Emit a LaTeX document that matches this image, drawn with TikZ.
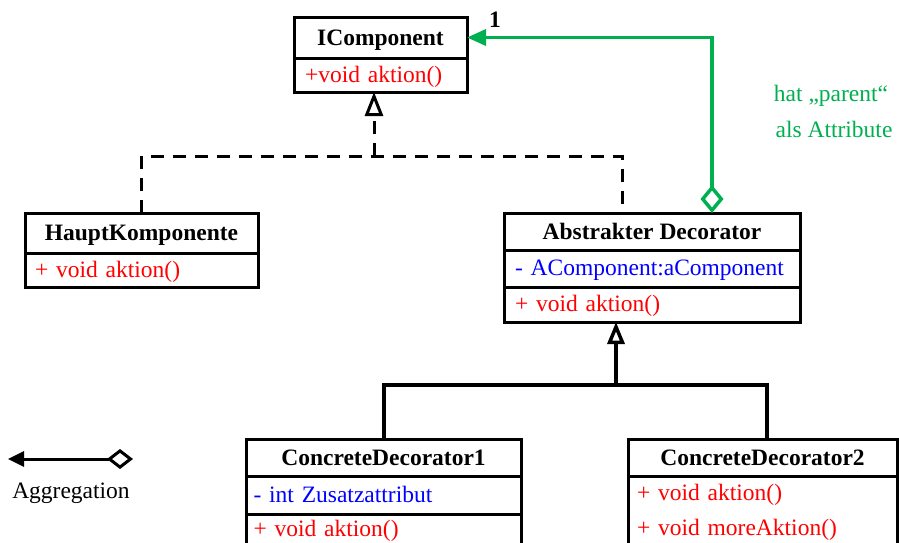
\documentclass[tikz,border=0pt]{standalone}
\usepackage{fontspec}
\setmainfont{Liberation Serif}
\usetikzlibrary{arrows.meta,calc}
\definecolor{umlgreen}{RGB}{0,176,80}
\definecolor{umlred}{RGB}{255,0,0}
\definecolor{umlblue}{RGB}{0,0,255}
\begin{document}
\begin{tikzpicture}[x=1pt,y=-1pt,
  cpt/.style={draw=black, line width=3pt, inner ysep=0pt, outer sep=0pt, anchor=north west},
  ttl/.style={cpt, inner xsep=0pt, text height=19pt, text depth=4pt, font=\fontsize{23.5}{28}\selectfont\bfseries},
  mem/.style={cpt, align=left, font=\fontsize{23.5}{35}\selectfont},
  mone/.style={mem, text height=18pt, text depth=4pt},
  dsh/.style={draw=black, line width=3pt, dash pattern=on 13pt off 9pt},
  inh/.style={draw=black, line width=4pt},
  agg/.style={draw=umlgreen, line width=3.5pt},
  lbl/.style={inner sep=0pt, font=\fontsize{23.5}{28}\selectfont}
]
\clip (0,0) rectangle (899,542);
\fill[white] (0,0) rectangle (899,542);

% IComponent
\node[ttl, minimum width=173pt, minimum height=41pt] (ic) at (294,17) {IComponent};
\node[mone, text=umlred, minimum height=34pt, text width=151pt, inner xsep=11pt] (icm) at (294,58) {+void aktion()};

% HauptKomponente
\node[ttl, minimum width=233pt, minimum height=40pt] (hk) at (25,213) {HauptKomponente};
\node[mone, text=umlred, minimum height=34pt, text width=213pt, inner xsep=10pt] (hkm) at (25,253) {+ void aktion()};

% Abstrakter Decorator
\node[ttl, minimum width=296pt, minimum height=37pt] (ad) at (504,213) {Abstrakter Decorator};
\node[mone, text=umlblue, minimum height=37pt, text width=274pt, inner xsep=11pt] (ada) at (504,250) {- AComponent:aComponent};
\node[mone, text=umlred, minimum height=35pt, text width=274pt, inner xsep=11pt] (adm) at (504,287) {+ void aktion()};

% ConcreteDecorator1
\node[ttl, minimum width=275pt, minimum height=37pt] (cd1) at (246,439) {ConcreteDecorator1};
\node[mone, text=umlblue, minimum height=38pt, text width=260pt, inner xsep=7.5pt] (cd1a) at (246,476) {- int Zusatzattribut};
\node[mone, text=umlred, minimum height=31pt, text width=260pt, inner xsep=7.5pt] (cd1m) at (246,514) {+ void aktion()};

% ConcreteDecorator2
\node[ttl, minimum width=269pt, minimum height=37pt] (cd2) at (628,439) {ConcreteDecorator2};
\node[mem, text=umlred, minimum height=72pt, text width=251pt, inner xsep=9pt] (cd2m) at (628,476) {+ void aktion()\\+ void moreAktion()};

% helper coordinates
\coordinate (icb) at ($(icm.south west)+(80,0)$);
\coordinate (j1) at (374,156);
\coordinate (adt) at ($(ad.north west)+(118,0)$);
\coordinate (adg) at ($(ad.north west)+(208,0)$);
\coordinate (adb) at ($(adm.south west)+(112,0)$);
\coordinate (j2) at (616,385);
\coordinate (cd2t) at ($(cd2.north west)+(139,0)$);

% realization (dashed)
\draw[dsh] (hk.north) |- (j1) -| (adt);
\draw[dsh, -{Triangle[open, length=24pt, width=18pt]}] (j1) -- (icb);

% inheritance
\draw[inh] (cd1.north) |- (j2) -| (cd2t);
\draw[inh, line width=3.5pt, -{Triangle[open, length=22pt, width=17pt]}] (j2) -- (adb);

% aggregation (green)
\draw[agg, {Diamond[open, length=28pt, width=23pt]}-{Triangle[length=19pt, width=16pt]}] (adg) |- (ic.east);
\node[lbl, font=\fontsize{23.5}{28}\selectfont\bfseries] (one) at (495,20) {1};
\node[lbl, text=umlgreen] (gt1) at (831,96) {hat „parent“};
\node[lbl, text=umlgreen] (gt2) at (834,129) {als Attribute};

% legend
\coordinate (lgL) at (8,459);
\coordinate (lgR) at (133,459);
\draw[line width=3pt, {Triangle[length=16pt, width=15pt]}-{Diamond[open, length=26pt, width=20pt]}] (lgL) -- (lgR);
\node[lbl] (aggtxt) at (71,493) {Aggregation};
\end{tikzpicture}
\end{document}
